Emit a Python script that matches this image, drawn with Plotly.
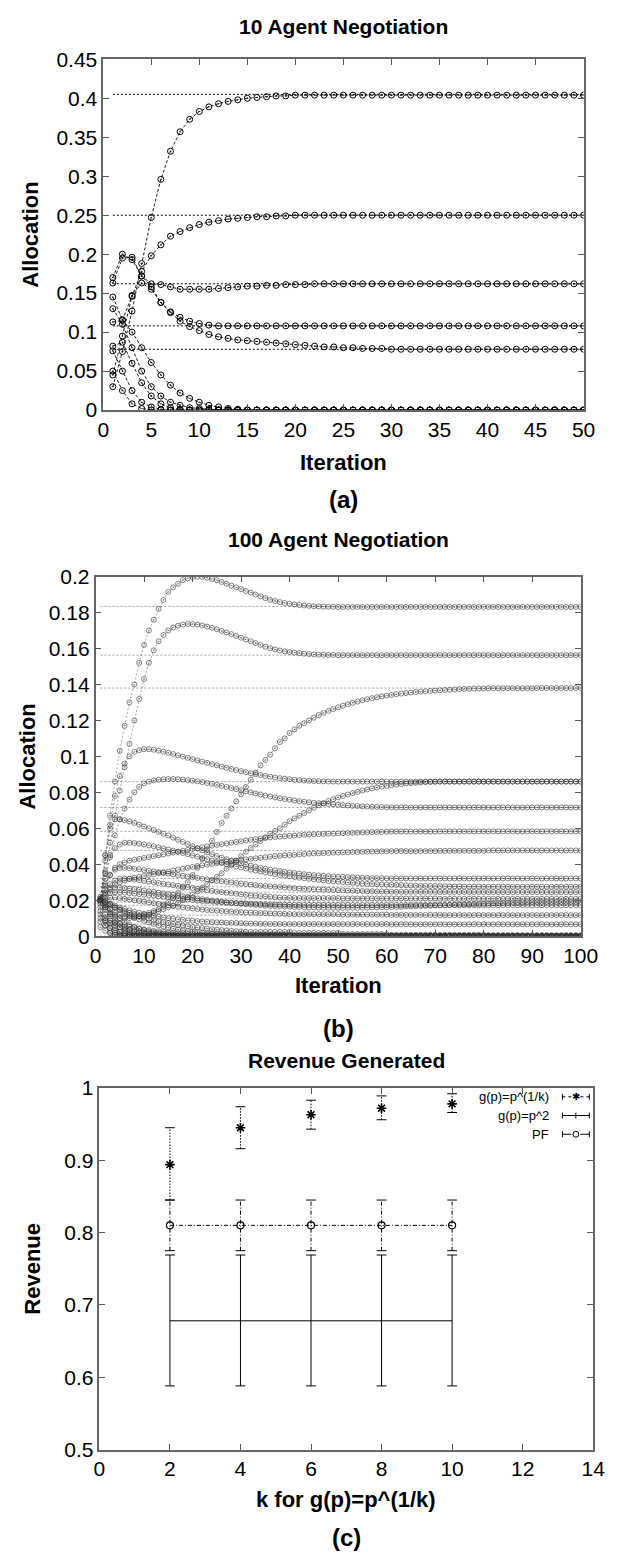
import plotly.graph_objects as go

W, H = 642, 1564
FONT = "Liberation Sans"

# ---------------- (a) 10 agent negotiation ----------------
a_equilibria = [0.405, 0.25, 0.162, 0.108, 0.078]
a_agent1 = [0.03, 0.075, 0.127, 0.188, 0.247, 0.296, 0.332, 0.357, 0.373, 0.383,
            0.389, 0.393, 0.396, 0.398, 0.400, 0.401, 0.402, 0.403, 0.403, 0.404] + [0.404] * 30
a_agent2 = [0.045, 0.095, 0.146, 0.178, 0.198, 0.212, 0.223, 0.229, 0.234, 0.238,
            0.241, 0.243, 0.245, 0.246, 0.247, 0.248, 0.248, 0.249, 0.249, 0.25] + [0.25] * 30
a_agent3 = [0.17, 0.2, 0.193, 0.172, 0.162, 0.161, 0.158, 0.155, 0.155, 0.155,
            0.155, 0.156, 0.157, 0.158, 0.159, 0.159, 0.16, 0.16, 0.161, 0.161, 0.161] + [0.162] * 29
a_agent4 = [0.163, 0.195, 0.196, 0.172, 0.158, 0.138, 0.126, 0.119, 0.114, 0.111,
            0.109, 0.108] + [0.108] * 38
a_agent5 = [0.113, 0.115, 0.147, 0.163, 0.155, 0.138, 0.125, 0.114, 0.107, 0.102,
            0.097, 0.094, 0.092, 0.09, 0.089, 0.088, 0.087, 0.086, 0.085, 0.084,
            0.083, 0.082, 0.081, 0.081, 0.08, 0.08, 0.079, 0.079, 0.079] + [0.078] * 21
a_agent6 = [0.145, 0.116, 0.1, 0.08, 0.061, 0.045, 0.032, 0.022, 0.015, 0.01,
            0.006, 0.004, 0.002, 0.001] + [0.0] * 36
a_agent7 = [0.13, 0.11, 0.08, 0.05, 0.03, 0.018, 0.01, 0.006, 0.003, 0.002, 0.001] + [0.0] * 39
a_agent8 = [0.082, 0.087, 0.06, 0.035, 0.018, 0.008, 0.003, 0.001] + [0.0] * 42
a_agent9 = [0.076, 0.05, 0.025, 0.01, 0.004, 0.001] + [0.0] * 44
a_agent10 = [0.05, 0.025, 0.008, 0.002] + [0.0] * 46
a_curves = [a_agent1, a_agent2, a_agent3, a_agent4, a_agent5,
            a_agent6, a_agent7, a_agent8, a_agent9, a_agent10]
a_iter_range = [1, 50]
a_xticks = [0, 5, 10, 15, 20, 25, 30, 35, 40, 45, 50]
a_yticks = [0, 0.05, 0.1, 0.15, 0.2, 0.25, 0.3, 0.35, 0.4, 0.45]
a_yticklabels = ["0", "0.05", "0.1", "0.15", "0.2", "0.25", "0.3", "0.35", "0.4", "0.45"]

# ---------------- (b) 100 agent negotiation ----------------
b_equilibria = [0.1834, 0.1563, 0.138, 0.086, 0.0716, 0.0583, 0.0477, 0.0321,
                0.0275, 0.0245, 0.0208, 0.019, 0.0172, 0.0117, 0.0066, 0.0]
b_p1 = ([0.02, 0.045, 0.067, 0.086, 0.103, 0.117, 0.13, 0.14, 0.152, 0.162,
         0.17, 0.176, 0.182, 0.187, 0.1915, 0.194, 0.196, 0.198, 0.199, 0.1997,
         0.2, 0.1998, 0.1993, 0.1987, 0.198, 0.197, 0.196, 0.195, 0.194, 0.193,
         0.192, 0.191, 0.19, 0.189, 0.188, 0.187, 0.1864, 0.1858, 0.1853, 0.1849,
         0.1845, 0.1842, 0.1839, 0.1837, 0.1835, 0.1834, 0.1833, 0.1832, 0.1832, 0.1831]
        + [0.1831] * 50)
b_p2 = ([0.02, 0.036, 0.052, 0.067, 0.081, 0.094, 0.107, 0.12, 0.132, 0.143,
         0.152, 0.159, 0.164, 0.1675, 0.17, 0.1717, 0.1727, 0.1733, 0.1736, 0.1736,
         0.1733, 0.1728, 0.1722, 0.1715, 0.1707, 0.1698, 0.1689, 0.168, 0.167, 0.166,
         0.165, 0.164, 0.163, 0.162, 0.161, 0.1602, 0.1595, 0.1589, 0.1584, 0.158,
         0.1577, 0.1574, 0.1571, 0.1569, 0.1567, 0.1566, 0.1565, 0.1564, 0.1564, 0.1563]
        + [0.1563] * 50)
b_p3 = ([0.02, 0.017, 0.015, 0.013, 0.012, 0.011, 0.011, 0.011, 0.011, 0.012,
         0.013, 0.014, 0.015, 0.017, 0.019, 0.021, 0.024, 0.027, 0.03, 0.034,
         0.038, 0.043, 0.048, 0.053, 0.058, 0.063, 0.067, 0.071, 0.075, 0.079,
         0.083, 0.087, 0.091, 0.095, 0.098, 0.101, 0.1045, 0.108, 0.11, 0.113,
         0.115, 0.117, 0.1185, 0.12, 0.1215, 0.123, 0.1242, 0.1253, 0.1263, 0.1273,
         0.1282, 0.129, 0.1298, 0.1305, 0.1312, 0.1318, 0.1324, 0.1329, 0.1334, 0.1338,
         0.1342, 0.1346, 0.1349, 0.1352, 0.1355, 0.1358, 0.136, 0.1362, 0.1364, 0.1366,
         0.1368, 0.137, 0.1371, 0.1372, 0.1374, 0.1375, 0.1376, 0.1377, 0.1378, 0.1378]
        + [0.1379] * 10 + [0.138] * 10)
b_p4 = ([0.02, 0.016, 0.013, 0.011, 0.01, 0.01, 0.01, 0.01, 0.011, 0.011,
         0.012, 0.013, 0.014, 0.015, 0.016, 0.017, 0.0185, 0.02, 0.0215, 0.023,
         0.025, 0.027, 0.029, 0.031, 0.033, 0.035, 0.0375, 0.04, 0.042, 0.0445,
         0.047, 0.049, 0.051, 0.053, 0.055, 0.057, 0.0585, 0.06, 0.062, 0.064,
         0.0655, 0.067, 0.0685, 0.07, 0.0715, 0.0728, 0.074, 0.0752, 0.0762, 0.0772,
         0.078, 0.0788, 0.0796, 0.0803, 0.081, 0.0816, 0.0822, 0.0827, 0.0832, 0.0836,
         0.084, 0.0843, 0.0846, 0.0849, 0.0851, 0.0853, 0.0855, 0.0857, 0.0858, 0.0859]
        + [0.086] * 30)
b_p5 = ([0.02, 0.042, 0.062, 0.078, 0.089, 0.096, 0.1, 0.1025, 0.1035, 0.104,
         0.104, 0.1037, 0.1032, 0.1026, 0.102, 0.1013, 0.1006, 0.0999, 0.0992, 0.0985,
         0.0978, 0.0971, 0.0964, 0.0957, 0.095, 0.0943, 0.0936, 0.093, 0.0924, 0.0918,
         0.0912, 0.0906, 0.0901, 0.0896, 0.0891, 0.0887, 0.0883, 0.0879, 0.0876, 0.0873,
         0.087, 0.0868, 0.0866, 0.0864, 0.0863, 0.0862, 0.0861, 0.086, 0.086, 0.086]
        + [0.086] * 50)
b_p6 = ([0.02, 0.032, 0.045, 0.056, 0.065, 0.071, 0.076, 0.08, 0.083, 0.085,
         0.086, 0.0866, 0.087, 0.0873, 0.0874, 0.0874, 0.0873, 0.0871, 0.0868, 0.0865,
         0.0861, 0.0857, 0.0852, 0.0847, 0.0842, 0.0836, 0.083, 0.0824, 0.0818, 0.0812,
         0.0806, 0.08, 0.0794, 0.0788, 0.0782, 0.0777, 0.0772, 0.0767, 0.0763, 0.0759,
         0.0755, 0.0751, 0.0748, 0.0745, 0.0742, 0.074, 0.0737, 0.0735, 0.0733, 0.0731,
         0.0729, 0.0727, 0.0725, 0.0724, 0.0722, 0.0721, 0.072, 0.0719, 0.0718, 0.0717]
        + [0.0716] * 40)
b_p7 = ([0.02, 0.045, 0.06, 0.065, 0.065, 0.0645, 0.0638, 0.063, 0.062, 0.061,
         0.06, 0.059, 0.058, 0.057, 0.056, 0.0548, 0.0536, 0.0524, 0.0512, 0.05,
         0.0488, 0.0477, 0.0466, 0.0456, 0.0446, 0.0437, 0.0428, 0.042, 0.0412, 0.0405,
         0.0398, 0.0392, 0.0386, 0.038, 0.0375, 0.037, 0.0366, 0.0362, 0.0358, 0.0354,
         0.0351, 0.0348, 0.0345, 0.0342, 0.034, 0.0338, 0.0336, 0.0334, 0.0332, 0.033,
         0.0329, 0.0328, 0.0327, 0.0326, 0.0325, 0.0324, 0.0323, 0.0323, 0.0322, 0.0322]
        + [0.0321] * 40)
b_p8 = ([0.02, 0.028, 0.034, 0.038, 0.04, 0.041, 0.042, 0.0425, 0.043, 0.0435,
         0.044, 0.0445, 0.045, 0.0455, 0.046, 0.0465, 0.047, 0.0475, 0.048, 0.0485,
         0.049, 0.0495, 0.05, 0.0504, 0.0508, 0.0512, 0.0516, 0.052, 0.0524, 0.0528,
         0.0532, 0.0536, 0.054, 0.0543, 0.0546, 0.0549, 0.0552, 0.0554, 0.0556, 0.0558,
         0.056, 0.0562, 0.0564, 0.0566, 0.0567, 0.0568, 0.0569, 0.057, 0.0571, 0.0572,
         0.0573, 0.0574, 0.0575, 0.0576, 0.0577, 0.0578, 0.0579, 0.058, 0.058, 0.0581]
        + [0.0582] * 10 + [0.0583] * 30)
b_p9 = ([0.02, 0.035, 0.044, 0.049, 0.051, 0.052, 0.052, 0.0518, 0.0514, 0.051,
         0.0505, 0.05, 0.0494, 0.0488, 0.0482, 0.0476, 0.047, 0.0463, 0.0456, 0.0449,
         0.0442, 0.0435, 0.0428, 0.0421, 0.0414, 0.0407, 0.04, 0.0394, 0.0388, 0.0382,
         0.0376, 0.037, 0.0365, 0.036, 0.0355, 0.035, 0.0345, 0.0341, 0.0337, 0.0333,
         0.0329, 0.0325, 0.0322, 0.0319, 0.0316, 0.0313, 0.031, 0.0307, 0.0305, 0.0303,
         0.0301, 0.0299, 0.0297, 0.0295, 0.0293, 0.0291, 0.029, 0.0289, 0.0288, 0.0287,
         0.0286, 0.0285, 0.0284, 0.0283, 0.0282, 0.0281, 0.028, 0.028, 0.0279, 0.0279,
         0.0278, 0.0278, 0.0277, 0.0277, 0.0277, 0.0276, 0.0276, 0.0276, 0.0276, 0.0275]
        + [0.0275] * 20)
b_p10 = ([0.02, 0.024, 0.027, 0.029, 0.03, 0.031, 0.032, 0.0325, 0.033, 0.0335,
          0.034, 0.0345, 0.035, 0.0355, 0.036, 0.0365, 0.037, 0.0375, 0.038, 0.0385,
          0.039, 0.0394, 0.0398, 0.0402, 0.0406, 0.041, 0.0414, 0.0418, 0.0421, 0.0424,
          0.0427, 0.043, 0.0433, 0.0436, 0.0439, 0.0442, 0.0445, 0.0447, 0.0449, 0.0451,
          0.0453, 0.0455, 0.0457, 0.0459, 0.046, 0.0461, 0.0462, 0.0463, 0.0464, 0.0465,
          0.0466, 0.0467, 0.0468, 0.0469, 0.047, 0.047, 0.0471, 0.0471, 0.0472, 0.0472]
         + [0.0473] * 10 + [0.0475] * 10 + [0.0477] * 20)
b_p11 = ([0.02, 0.029, 0.034, 0.037, 0.038, 0.038, 0.0378, 0.0375, 0.0372, 0.0368,
          0.0364, 0.036, 0.0356, 0.0352, 0.0348, 0.0344, 0.034, 0.0336, 0.0332, 0.0328,
          0.0324, 0.032, 0.0316, 0.0312, 0.0308, 0.0305, 0.0302, 0.0299, 0.0296, 0.0293,
          0.029, 0.0287, 0.0284, 0.0281, 0.0279, 0.0277, 0.0275, 0.0273, 0.0271, 0.0269,
          0.0267, 0.0265, 0.0263, 0.0262, 0.0261, 0.026, 0.0259, 0.0258, 0.0257, 0.0256,
          0.0255, 0.0254, 0.0253, 0.0252, 0.0251, 0.025, 0.025, 0.0249, 0.0249, 0.0248]
         + [0.0247] * 10 + [0.0246] * 10 + [0.0245] * 20)
b_p12 = ([0.02, 0.026, 0.029, 0.031, 0.032, 0.032, 0.0318, 0.0315, 0.0312, 0.0308,
          0.0304, 0.03, 0.0296, 0.0292, 0.0288, 0.0284, 0.028, 0.0276, 0.0272, 0.0268,
          0.0264, 0.026, 0.0256, 0.0252, 0.0248, 0.0245, 0.0242, 0.0239, 0.0236, 0.0233,
          0.023, 0.0227, 0.0225, 0.0223, 0.0221, 0.0219, 0.0217, 0.0215, 0.0214, 0.0213]
         + [0.0212] * 10 + [0.021] * 20 + [0.0208] * 30)
b_p13 = ([0.02, 0.024, 0.026, 0.027, 0.027, 0.0268, 0.0265, 0.0262, 0.0258, 0.0254,
          0.025, 0.0246, 0.0242, 0.0238, 0.0234, 0.023, 0.0226, 0.0222, 0.0218, 0.0214,
          0.021, 0.0206, 0.0202, 0.0198, 0.0195, 0.0192, 0.0189, 0.0186, 0.0183, 0.018,
          0.0178, 0.0176, 0.0174, 0.0172, 0.017, 0.0168, 0.0167, 0.0166, 0.0165, 0.0164,
          0.0163, 0.0162, 0.0161, 0.016, 0.016, 0.0159, 0.0159, 0.0158, 0.0158, 0.0158,
          0.0158, 0.0158, 0.0158, 0.0158, 0.0159, 0.0159, 0.016, 0.016, 0.0161, 0.0161,
          0.0162, 0.0163, 0.0164, 0.0165, 0.0166, 0.0167, 0.0168, 0.0169, 0.017, 0.0171,
          0.0172, 0.0173, 0.0174, 0.0175, 0.0176, 0.0177, 0.0178, 0.0179, 0.018, 0.0181,
          0.0182, 0.0183, 0.0184, 0.0185, 0.0186, 0.0187, 0.0188, 0.0188, 0.0189, 0.0189]
         + [0.019] * 10)
b_p14 = ([0.02, 0.023, 0.024, 0.0245, 0.0245, 0.0243, 0.024, 0.0237, 0.0234, 0.0231,
          0.0228, 0.0225, 0.0222, 0.0219, 0.0216, 0.0213, 0.021, 0.0207, 0.0204, 0.0201,
          0.0198, 0.0196, 0.0194, 0.0192, 0.019, 0.0188, 0.0186, 0.0185, 0.0184, 0.0183,
          0.0182, 0.0181, 0.018, 0.0179, 0.0178, 0.0177, 0.0176, 0.0176, 0.0175, 0.0175]
         + [0.0174] * 10 + [0.0173] * 20 + [0.0172] * 30)
b_p15 = ([0.02, 0.021, 0.0215, 0.0215, 0.0212, 0.0208, 0.0204, 0.02, 0.0196, 0.0192,
          0.0188, 0.0184, 0.018, 0.0176, 0.0172, 0.0168, 0.0164, 0.016, 0.0157, 0.0154,
          0.0151, 0.0148, 0.0146, 0.0144, 0.0142, 0.014, 0.0138, 0.0136, 0.0134, 0.0133,
          0.0132, 0.0131, 0.013, 0.0129, 0.0128, 0.0127, 0.0126, 0.0125, 0.0124, 0.0123]
         + [0.0122] * 10 + [0.012] * 10 + [0.0118] * 10 + [0.0117] * 30)
b_p16 = ([0.02, 0.019, 0.018, 0.017, 0.016, 0.0152, 0.0144, 0.0137, 0.013, 0.0124,
          0.0118, 0.0113, 0.0108, 0.0104, 0.01, 0.0097, 0.0094, 0.0091, 0.0088, 0.0086,
          0.0084, 0.0082, 0.008, 0.0078, 0.0077, 0.0076, 0.0075, 0.0074, 0.0073, 0.0072,
          0.0071, 0.007, 0.007, 0.0069, 0.0069, 0.0068, 0.0068, 0.0068, 0.0067, 0.0067]
         + [0.0067] * 20 + [0.0066] * 40)
b_z1 = ([0.021, 0.018, 0.015, 0.012, 0.01, 0.008, 0.0065, 0.0052, 0.0042, 0.0034,
         0.0027, 0.0022, 0.0018, 0.0014, 0.0011, 0.0009, 0.0007, 0.0005, 0.0004, 0.0003]
        + [0.0002] * 10 + [0.0] * 70)
b_z2 = ([0.02, 0.016, 0.012, 0.009, 0.0068, 0.005, 0.0037, 0.0027, 0.002, 0.0014,
         0.001, 0.0007, 0.0005, 0.0003, 0.0002] + [0.0] * 85)
b_z3 = ([0.019, 0.015, 0.011, 0.0075, 0.005, 0.0032, 0.002, 0.0012, 0.0007, 0.0004,
         0.0002] + [0.0] * 89)
b_z4 = [0.018, 0.012, 0.0075, 0.0045, 0.0025, 0.0014, 0.0007, 0.0003] + [0.0] * 92
b_z5 = [0.016, 0.009, 0.0045, 0.002, 0.0008, 0.0003] + [0.0] * 94
b_z6 = [0.014, 0.006, 0.002, 0.0006] + [0.0] * 96
b_z7 = ([0.022, 0.02, 0.018, 0.016, 0.0145, 0.013, 0.0118, 0.0106, 0.0095, 0.0085,
         0.0076, 0.0068, 0.006, 0.0053, 0.0047, 0.0042, 0.0037, 0.0033, 0.0029, 0.0026,
         0.0023, 0.002, 0.0018, 0.0016, 0.0014, 0.0012, 0.0011, 0.001, 0.0009, 0.0008]
        + [0.0006] * 10 + [0.0004] * 10 + [0.0002] * 20 + [0.0] * 30)
b_z8 = ([0.012, 0.01, 0.0088, 0.0078, 0.007, 0.0062, 0.0055, 0.0049, 0.0043, 0.0038,
         0.0034, 0.003, 0.0027, 0.0024, 0.0021, 0.0019, 0.0017, 0.0015, 0.0013, 0.0012]
        + [0.001] * 10 + [0.0008] * 10 + [0.0005] * 20 + [0.0002] * 20 + [0.0] * 20)
b_z9 = ([0.01, 0.0085, 0.0072, 0.006, 0.005, 0.0042, 0.0035, 0.0029, 0.0024, 0.002,
         0.0016, 0.0013, 0.001, 0.0008, 0.0006, 0.0005, 0.0004, 0.0003, 0.0002, 0.0001]
        + [0.0] * 80)
b_z10 = ([0.021, 0.019, 0.0175, 0.0162, 0.015, 0.0139, 0.0129, 0.012, 0.0112, 0.0104,
          0.0097, 0.009, 0.0084, 0.0078, 0.0073, 0.0068, 0.0063, 0.0059, 0.0055, 0.0051,
          0.0048, 0.0045, 0.0042, 0.0039, 0.0036, 0.0034, 0.0032, 0.003, 0.0028, 0.0026]
         + [0.0024] * 10 + [0.0018] * 10 + [0.0012] * 10 + [0.0008] * 20 + [0.0006] * 20)
b_z11 = [0.008, 0.006, 0.0045, 0.0033, 0.0024, 0.0017, 0.0012, 0.0008, 0.0005, 0.0003] + [0.0] * 90
b_z12 = [0.005, 0.003, 0.0017, 0.0009, 0.0004] + [0.0] * 95
b_curves = [b_p1, b_p2, b_p3, b_p4, b_p5, b_p6, b_p7, b_p8, b_p9, b_p10, b_p11,
            b_p12, b_p13, b_p14, b_p15, b_p16, b_z1, b_z2, b_z3, b_z4, b_z5, b_z6,
            b_z7, b_z8, b_z9, b_z10, b_z11, b_z12]
b_iter_range = [1, 100]
b_xticks = [0, 10, 20, 30, 40, 50, 60, 70, 80, 90, 100]
b_yticks = [0, 0.02, 0.04, 0.06, 0.08, 0.1, 0.12, 0.14, 0.16, 0.18, 0.2]
b_yticklabels = ["0", "0.02", "0.04", "0.06", "0.08", "0.1", "0.12", "0.14", "0.16", "0.18", "0.2"]

# ---------------- (c) revenue generated ----------------
k_values = [2, 4, 6, 8, 10]
root_mean = [0.894, 0.945, 0.963, 0.972, 0.978]
root_upper = [0.945, 0.974, 0.983, 0.989, 0.992]
root_lower = [0.845, 0.916, 0.943, 0.956, 0.966]
square_mean = [0.678, 0.678, 0.678, 0.678, 0.678]
square_upper = [0.769, 0.769, 0.769, 0.769, 0.769]
square_lower = [0.588, 0.588, 0.588, 0.588, 0.588]
pf_mean = [0.81, 0.81, 0.81, 0.81, 0.81]
pf_upper = [0.845, 0.845, 0.845, 0.845, 0.845]
pf_lower = [0.775, 0.775, 0.775, 0.775, 0.775]
c_xticks = [0, 2, 4, 6, 8, 10, 12, 14]
c_yticks = [0.5, 0.6, 0.7, 0.8, 0.9, 1.0]
c_yticklabels = ["0.5", "0.6", "0.7", "0.8", "0.9", "1"]
legend_labels = ["g(p)=p^(1/k)", "g(p)=p^2", "PF"]

# ---------------- figure ----------------
fig = go.Figure()


def dom_x(l, r):
    return [l / W, r / W]


def dom_y(t, b):
    return [1 - b / H, 1 - t / H]


def px(x):
    return x / W


def py(y):
    return 1 - y / H


# (a)
for v in a_equilibria:
    fig.add_trace(go.Scatter(x=a_iter_range, y=[v, v], mode="lines",
                             line=dict(color="black", width=1, dash="2px,2px"),
                             xaxis="x", yaxis="y", showlegend=False, hoverinfo="skip"))
for ys in a_curves:
    fig.add_trace(go.Scatter(x=list(range(1, len(ys) + 1)), y=ys, mode="lines+markers",
                             line=dict(color="black", width=0.9, dash="3px,2px"),
                             marker=dict(symbol="circle-open-dot", size=6, color="black",
                                         line=dict(width=1, color="black")),
                             xaxis="x", yaxis="y", showlegend=False))

# (b)
for v in b_equilibria:
    fig.add_trace(go.Scatter(x=b_iter_range, y=[v, v], mode="lines",
                             line=dict(color="#888", width=0.8, dash="2px,2px"),
                             xaxis="x2", yaxis="y2", showlegend=False, hoverinfo="skip"))
for ys in b_curves:
    fig.add_trace(go.Scatter(x=list(range(1, len(ys) + 1)), y=ys, mode="lines+markers",
                             line=dict(color="rgba(70,70,70,0.7)", width=0.7, dash="2px,2px"),
                             marker=dict(symbol="circle-open-dot", size=5,
                                         color="rgba(50,50,50,0.75)",
                                         line=dict(width=0.8, color="rgba(50,50,50,0.75)")),
                             xaxis="x2", yaxis="y2", showlegend=False))


# (c)
def bars(lower, upper):
    xs, ys = [], []
    for k, lo, hi in zip(k_values, lower, upper):
        xs += [k, k, None]
        ys += [lo, hi, None]
    return xs, ys


series_c = [
    (root_lower, root_upper, "1.5px,1.5px"),
    (square_lower, square_upper, "solid"),
    (pf_lower, pf_upper, "4px,2px,1px,2px"),
]
for lo, hi, dash in series_c:
    bx, by = bars(lo, hi)
    fig.add_trace(go.Scatter(x=bx, y=by, mode="lines",
                             line=dict(color="black", width=1, dash=dash),
                             xaxis="x3", yaxis="y3", showlegend=False, hoverinfo="skip"))
    fig.add_trace(go.Scatter(x=k_values + k_values, y=lo + hi, mode="markers",
                             marker=dict(symbol="line-ew", size=7, color="black",
                                         line=dict(width=1, color="black")),
                             xaxis="x3", yaxis="y3", showlegend=False, hoverinfo="skip"))

fig.add_trace(go.Scatter(x=k_values, y=square_mean, mode="lines",
                         line=dict(color="black", width=1),
                         xaxis="x3", yaxis="y3", showlegend=False))
fig.add_trace(go.Scatter(x=k_values, y=pf_mean, mode="lines+markers",
                         line=dict(color="black", width=1, dash="4px,2px,1px,2px"),
                         marker=dict(symbol="circle-open", size=7, color="black",
                                     line=dict(width=1.2, color="black")),
                         xaxis="x3", yaxis="y3", showlegend=False))
fig.add_trace(go.Scatter(x=k_values, y=root_mean, mode="markers",
                         marker=dict(symbol="asterisk-open", size=8, color="black",
                                     line=dict(width=1.6, color="black")),
                         xaxis="x3", yaxis="y3", showlegend=False))

axis_common = dict(showline=True, linecolor="#666", linewidth=1.5, mirror="ticks",
                   ticks="inside", ticklen=6, tickcolor="#555", tickwidth=1,
                   showgrid=False, zeroline=False,
                   tickfont=dict(family=FONT, size=21, color="black"))

A_L, A_R, A_T, A_B = 101, 600, 48, 404
B_L, B_R, B_T, B_B = 93, 597, 573, 938
C_L, C_R, C_T, C_B = 97, 610, 1092, 1459

fig.update_layout(
    width=W, height=H, margin=dict(l=0, r=0, t=0, b=0),
    paper_bgcolor="white", plot_bgcolor="white",
    xaxis=dict(domain=dom_x(A_L, A_R), anchor="y", range=[0, 50],
               tickvals=a_xticks, **axis_common),
    yaxis=dict(domain=dom_y(A_T, A_B), anchor="x", range=[0, 0.45],
               tickvals=a_yticks, ticktext=a_yticklabels, **axis_common),
    xaxis2=dict(domain=dom_x(B_L, B_R), anchor="y2", range=[0, 100],
                tickvals=b_xticks, **axis_common),
    yaxis2=dict(domain=dom_y(B_T, B_B), anchor="x2", range=[0, 0.2],
                tickvals=b_yticks, ticktext=b_yticklabels, **axis_common),
    xaxis3=dict(domain=dom_x(C_L, C_R), anchor="y3", range=[0, 14],
                tickvals=c_xticks, **axis_common),
    yaxis3=dict(domain=dom_y(C_T, C_B), anchor="x3", range=[0.5, 1.0],
                tickvals=c_yticks, ticktext=c_yticklabels, **axis_common),
)

ann = []


def text(x, y, s, size, bold=True, angle=0, xanchor="center"):
    ann.append(dict(x=px(x), y=py(y), xref="paper", yref="paper", text=s, showarrow=False,
                    xanchor=xanchor, yanchor="middle", textangle=angle,
                    font=dict(family=FONT, size=size, color="black",
                              weight="bold" if bold else "normal")))


text((A_L + A_R) / 2, 15, "10 Agent Negotiation", 21)
text(26, (A_T + A_B) / 2, "Allocation", 22, angle=-90)
text((A_L + A_R) / 2, 457, "Iteration", 22)
text((A_L + A_R) / 2, 495, "(a)", 24)

text((B_L + B_R) / 2, 535, "100 Agent Negotiation", 21)
text(22, (B_T + B_B) / 2, "Allocation", 22, angle=-90)
text((B_L + B_R) / 2, 988, "Iteration", 22)
text((B_L + B_R) / 2, 1032, "(b)", 24)

text((C_L + C_R) / 2, 1064, "Revenue Generated", 21)
text(28, (C_T + C_B) / 2, "Revenue", 22, angle=-90)
text((C_L + C_R) / 2, 1510, "k for g(p)=p^(1/k)", 22)
text((C_L + C_R) / 2, 1548, "(c)", 24)

# legend of (c), drawn as text + sample strokes
leg_rows = [1101, 1120, 1139]
leg_text_right = 566
leg_s0, leg_s1 = 578, 606
leg_dash = ["dot", "solid", "dashdot"]
shapes = []
for label, yy, dash in zip(legend_labels, leg_rows, leg_dash):
    text(leg_text_right, yy, label, 13, bold=False, xanchor="right")
    shapes.append(dict(type="line", xref="paper", yref="paper",
                       x0=px(leg_s0), x1=px(leg_s1), y0=py(yy), y1=py(yy),
                       line=dict(color="black", width=1, dash=dash)))
    for xe in (leg_s0, leg_s1):
        shapes.append(dict(type="line", xref="paper", yref="paper",
                           x0=px(xe), x1=px(xe), y0=py(yy - 3), y1=py(yy + 3),
                           line=dict(color="black", width=1)))
# sample markers
ann.append(dict(x=px((leg_s0 + leg_s1) / 2), y=py(leg_rows[0]), xref="paper", yref="paper",
                text="✱", showarrow=False, xanchor="center", yanchor="middle",
                font=dict(family="DejaVu Sans", size=10, color="black")))
shapes.append(dict(type="line", xref="paper", yref="paper",
                   x0=px((leg_s0 + leg_s1) / 2), x1=px((leg_s0 + leg_s1) / 2),
                   y0=py(leg_rows[1] - 3), y1=py(leg_rows[1] + 3),
                   line=dict(color="black", width=1)))
cx = (leg_s0 + leg_s1) / 2
shapes.append(dict(type="circle", xref="paper", yref="paper",
                   x0=px(cx - 3), x1=px(cx + 3), y0=py(leg_rows[2] + 3), y1=py(leg_rows[2] - 3),
                   line=dict(color="black", width=1), fillcolor="white"))

fig.update_layout(annotations=ann, shapes=shapes)
fig.write_html("out.html")
